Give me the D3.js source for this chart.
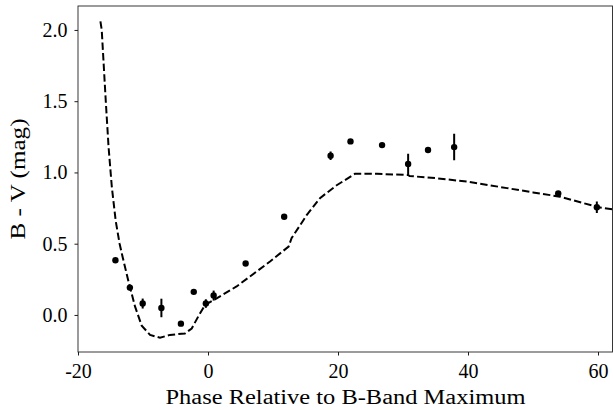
<!DOCTYPE html>
<html>
<head>
<meta charset="utf-8">
<script src="https://cdn.jsdelivr.net/npm/d3@7"></script>
<style>
  html, body { margin: 0; padding: 0; background: #fff; }
  svg { display: block; }
  text { font-family: "Liberation Serif", "DejaVu Serif", serif; fill: #000; }
</style>
</head>
<body>
<svg id="chart" width="613" height="410"></svg>
<script>
// Observed B-V colour
const phase = [-14.24, -12.02, -10.05, -7.17, -4.17, -2.19, -0.33, 0.87, 5.79, 11.72, 18.86, 21.92, 26.78, 30.79, 33.85, 37.87, 53.88, 59.82];
const bv    = [0.384, 0.192, 0.080, 0.049, -0.061, 0.162, 0.080, 0.136, 0.361, 0.689, 1.117, 1.218, 1.192, 1.059, 1.157, 1.178, 0.852, 0.756];
const bvErr = [0.01, 0.02, 0.035, 0.065, 0.015, 0.01, 0.03, 0.035, 0.01, 0.01, 0.03, 0.01, 0.01, 0.073, 0.01, 0.093, 0.015, 0.04];

// Template / model curve (dashed)
const modelPhase = [-16.55, -16.35, -16.1, -15.74, -15.3, -14.8, -14.2, -13.6, -13.1, -12.26, -11.23, -10.2, -8.92, -7.38, -5.85, -3.54, -2.51, -1.49, -0.46, 1.33, 4.4, 6.46, 9.54, 12.4, 12.87, 15.18, 17.23, 19.8, 22.6, 26, 30.8, 31, 35, 40, 46, 50, 54.15, 60.05, 62.5];
const modelBV    = [2.06, 2.00, 1.80, 1.51, 1.18, 0.90, 0.66, 0.50, 0.40, 0.24, 0.06, -0.075, -0.14, -0.16, -0.14, -0.13, -0.095, -0.01, 0.07, 0.117, 0.2, 0.27, 0.375, 0.48, 0.54, 0.70, 0.82, 0.91, 0.99, 0.99, 0.982, 0.975, 0.96, 0.935, 0.89, 0.86, 0.83, 0.756, 0.74];

const xTicks = [-20, 0, 20, 40, 60];
const yTicks = [0.0, 0.5, 1.0, 1.5, 2.0];
const xLabel = "Phase Relative to B-Band Maximum";
const yLabel = "B - V (mag)";

const svg = d3.select("#chart");
const L = 78, R = 612.5, T = 6, B = 352;

const x = d3.scaleLinear().domain([-20, 62.23]).range([L, R]);
const y = d3.scaleLinear().domain([-0.26, 2.168]).range([B, T]);

svg.append("defs").append("clipPath").attr("id", "clip")
  .append("rect").attr("x", L).attr("y", T).attr("width", R - L).attr("height", B - T);

const plot = svg.append("g").attr("clip-path", "url(#clip)");

// model line
const model = modelPhase.map((p, i) => [p, modelBV[i]]);
plot.append("path")
  .datum(model)
  .attr("fill", "none")
  .attr("stroke", "#000")
  .attr("stroke-width", 2)
  .attr("stroke-dasharray", "7.4,3.2")
  .attr("d", d3.line().x(d => x(d[0])).y(d => y(d[1])));

// error bars
const pts = phase.map((p, i) => ({ p, v: bv[i], e: bvErr[i] }));
plot.selectAll("line.err").data(pts).enter().append("line")
  .attr("class", "err")
  .attr("x1", d => x(d.p)).attr("x2", d => x(d.p))
  .attr("y1", d => y(d.v - d.e)).attr("y2", d => y(d.v + d.e))
  .attr("stroke", "#000").attr("stroke-width", 2);

// points
plot.selectAll("circle").data(pts).enter().append("circle")
  .attr("cx", d => x(d.p)).attr("cy", d => y(d.v))
  .attr("r", 3.2).attr("fill", "#000");

// axes
const fmtX = d => (d < 0 ? "-" + Math.abs(d) : String(d));
const xAxis = svg.append("g").attr("transform", `translate(0,${B})`)
  .call(d3.axisBottom(x).tickValues(xTicks).tickSize(3.5).tickPadding(8).tickFormat(fmtX));
const yAxis = svg.append("g").attr("transform", `translate(${L},0)`)
  .call(d3.axisLeft(y).tickValues(yTicks).tickSize(3.5).tickPadding(7).tickFormat(d3.format(".1f")));

[xAxis, yAxis].forEach(g => {
  g.select(".domain").remove();
  g.selectAll(".tick line").attr("stroke", "#000").attr("stroke-width", 0.9);
  g.selectAll(".tick text").style("font-family", '"Liberation Serif", serif').style("font-size", "20px");
});
xAxis.selectAll(".tick text").attr("dy", "0.71em");

// frame
svg.append("rect").attr("x", L).attr("y", T).attr("width", R - L).attr("height", B - T)
  .attr("fill", "none").attr("stroke", "#222").attr("stroke-width", 0.9);

// labels
svg.append("text")
  .attr("x", (L + 613) / 2).attr("y", 404)
  .attr("text-anchor", "middle")
  .attr("textLength", 360)
  .attr("lengthAdjust", "spacingAndGlyphs")
  .style("font-size", "20px")
  .text(xLabel);

svg.append("text")
  .attr("transform", `translate(25,${(T + B) / 2}) rotate(-90)`)
  .attr("text-anchor", "middle")
  .attr("textLength", 121)
  .attr("lengthAdjust", "spacingAndGlyphs")
  .style("font-size", "20px")
  .text(yLabel);
</script>
</body>
</html>
